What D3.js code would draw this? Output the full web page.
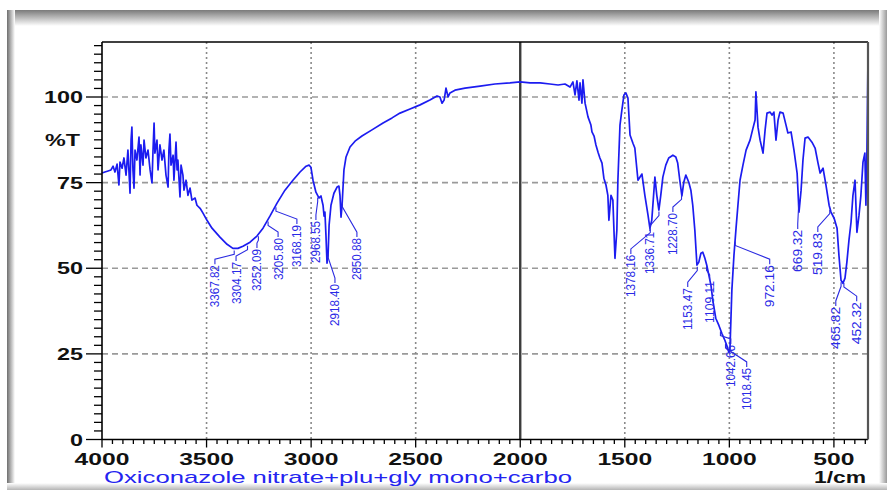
<!DOCTYPE html>
<html><head><meta charset="utf-8">
<script src="https://cdn.jsdelivr.net/npm/d3@7"></script>
<style>html,body{margin:0;padding:0;background:#fff;overflow:hidden}</style>
</head><body><svg id="c" width="894" height="493"></svg>
<script>
// ---- data ----
const wavenumber = [4000,3986,3971,3957,3947,3938,3928,3919,3914,3904,3895,3885,3876,3866,3861,3857,3852,3847,3842,3833,3823,3818,3814,3804,3799,3790,3780,3770,3761,3756,3751,3747,3737,3732,3723,3713,3704,3694,3684,3680,3675,3670,3660,3656,3646,3641,3637,3627,3622,3613,3608,3598,3589,3579,3570,3555,3546,3531,3517,3498,3474,3436,3402,3374,3350,3326,3292,3259,3230,3197,3163,3125,3087,3053,3024,3010,3001,2991,2977,2962,2953,2943,2938,2934,2929,2924,2919,2914,2905,2891,2876,2867,2862,2857,2852,2843,2833,2814,2790,2757,2709,2656,2613,2575,2527,2479,2432,2398,2384,2374,2364,2355,2345,2336,2312,2264,2192,2121,2049,2001,1953,1905,1858,1819,1786,1762,1748,1738,1729,1719,1714,1705,1700,1690,1676,1662,1657,1647,1638,1628,1619,1609,1600,1590,1581,1576,1566,1557,1547,1538,1533,1523,1514,1504,1495,1485,1475,1461,1452,1437,1418,1404,1389,1380,1371,1356,1347,1337,1328,1318,1304,1290,1270,1256,1247,1237,1227,1218,1208,1194,1184,1175,1165,1155,1146,1136,1127,1117,1108,1098,1088,1079,1065,1050,1036,1021,1011,1002,997,988,978,968,959,949,935,920,901,887,877,873,863,853,839,829,820,805,796,787,777,767,758,743,729,720,705,691,676,667,657,648,638,624,605,590,576,566,552,538,523,514,499,485,476,466,457,447,438,428,418,409,399,390,380,371,361,352,347,342,337];
const transmittance = [77.8,78.1,78.4,78.7,79.8,78.1,80.4,74.3,81.0,79.2,82.2,77.2,84.5,71.9,87.4,91.2,78.7,73.4,84.5,81.6,88.3,77.2,86.0,80.1,87.4,82.2,84.5,78.7,74.9,84.5,92.4,83.6,87.4,78.7,86.0,81.6,84.5,77.2,73.7,84.5,89.2,80.1,83.0,75.7,86.8,78.7,81.6,70.8,80.1,77.2,72.8,75.7,71.3,73.4,69.9,70.5,68.4,67.5,66.1,64.0,61.7,59.1,57.0,55.8,55.8,56.4,57.6,59.4,61.7,65.2,69.0,72.8,75.7,78.1,79.8,80.1,79.5,75.7,72.2,70.5,71.1,68.4,65.2,66.4,59.6,51.5,53.8,62.6,68.4,71.9,73.7,74.0,71.3,64.9,68.4,78.7,82.5,85.4,87.1,88.6,90.4,92.4,93.9,95.3,96.5,97.7,99.1,100.3,100.0,98.2,99.1,102.6,100.0,101.2,102.0,102.6,103.2,103.8,104.1,104.4,104.1,104.1,103.8,103.5,103.8,102.9,104.4,100.6,104.7,99.1,104.1,98.2,105.0,98.2,94.2,91.8,89.8,88.6,86.0,83.9,82.2,80.7,76.3,74.3,71.3,64.0,71.3,69.9,52.9,61.1,75.7,91.8,96.2,100.6,101.2,99.7,88.9,86.5,85.1,75.7,77.5,71.3,65.5,61.7,64.0,76.6,71.3,67.0,71.3,76.6,80.1,82.2,83.0,82.5,80.7,75.7,71.1,75.1,77.2,75.1,72.8,68.4,61.1,50.9,51.8,54.4,54.7,52.9,50.9,48.0,45.0,40.6,35.4,33.3,31.0,28.9,27.2,25.4,26.6,43.6,53.8,61.7,68.4,75.7,80.1,84.5,87.4,90.9,93.3,101.5,91.2,87.4,83.6,90.4,95.3,95.6,94.7,95.6,87.4,93.3,95.6,95.3,91.8,89.5,89.8,84.5,77.8,66.4,72.8,81.6,88.0,88.3,86.8,85.1,80.7,77.8,79.2,74.3,68.4,66.4,64.6,61.7,53.8,46.5,45.6,47.1,51.8,58.2,63.5,71.3,75.7,60.5,65.5,71.3,81.0,83.6,68.4,84.5,111.7];

const xTickValues = [4000,3500,3000,2500,2000,1500,1000,500];
const yTickValues = [0,25,50,75,100];
const peakLabels = ["3367.82","3304.17","3252.09","3205.80","3168.19","2968.55","2918.40","2850.88","1378.16","1336.71","1228.70","1153.47","1109.11","1042.66","1018.45","972.16","669.32","519.83","465.82","452.32"];
// label placement (annotation layout): wavenumber of label column, %T of label top
const labelColumnWn = [3460,3359,3259,3158,3068,2977,2886,2781,1471,1380,1270,1199,1094,993,917,807,673,577,491,391];
const labelTopT = [50.9,51.8,55.6,58.8,62.6,63.8,45.4,58.8,53.9,60.6,66.1,44.2,46.3,27.6,20.9,50.9,61.2,60.3,38.7,40.1];
const chartTitle = "Oxiconazole nitrate+plu+gly mono+carbo";
const xUnit = "1/cm";
const yUnit = "%T";

// ---- drawing ----
const svg = d3.select("#c");
const L = 102, R = 868, T = 42, B = 439.5;
const x = d3.scaleLinear().domain([4000, 337]).range([L, R]);
const y = d3.scaleLinear().domain([0, 116.06]).range([B, T]);

// frame with inner shadow
const defs = svg.append("defs");
function grad(id, x1, y1, x2, y2, c1, c2) {
  const g = defs.append("linearGradient").attr("id", id).attr("x1", x1).attr("y1", y1).attr("x2", x2).attr("y2", y2);
  g.append("stop").attr("offset", "0%").attr("stop-color", c1);
  g.append("stop").attr("offset", "100%").attr("stop-color", c2);
}
grad("gl", 0, 0, 1, 0, "#6e6e6e", "#ffffff");
grad("gt", 0, 0, 0, 1, "#7a7a7a", "#ffffff");
grad("gr", 0, 0, 1, 0, "#ffffff", "#9a9a9a");
grad("gb", 0, 0, 0, 1, "#ffffff", "#b5b5b5");
svg.append("rect").attr("x", 0).attr("y", 0).attr("width", 894).attr("height", 493).attr("fill", "#fff");
svg.append("rect").attr("x", 7).attr("y", 10).attr("width", 880).attr("height", 16).attr("fill", "url(#gt)");
svg.append("rect").attr("x", 7).attr("y", 10).attr("width", 8).attr("height", 480).attr("fill", "url(#gl)");
svg.append("rect").attr("x", 879).attr("y", 10).attr("width", 8).attr("height", 480).attr("fill", "url(#gr)");
svg.append("rect").attr("x", 7).attr("y", 483).attr("width", 880).attr("height", 7).attr("fill", "url(#gb)");

// grid
const grid = svg.append("g");
grid.selectAll("line.h").data(yTickValues.filter(d => d > 0)).join("line")
  .attr("x1", L).attr("x2", R).attr("y1", d => y(d)).attr("y2", d => y(d))
  .attr("stroke", "#9a9a9a").attr("stroke-width", 1.6).attr("stroke-dasharray", "6,4");
grid.selectAll("line.v").data(xTickValues.filter(d => d !== 4000 && d !== 2000)).join("line")
  .attr("x1", d => x(d)).attr("x2", d => x(d)).attr("y1", T).attr("y2", B)
  .attr("stroke", "#8a8a8a").attr("stroke-width", 1.6).attr("stroke-dasharray", "2,3");
grid.append("line").attr("x1", x(2000)).attr("x2", x(2000)).attr("y1", T).attr("y2", B)
  .attr("stroke", "#3c3c3c").attr("stroke-width", 2.4);

// spectrum
const pts = wavenumber.map((w, i) => [w, transmittance[i]]);
svg.append("path").datum(pts)
  .attr("d", d3.line().x(d => x(d[0])).y(d => y(d[1])))
  .attr("fill", "none").attr("stroke", "#1c1cf0").attr("stroke-width", 1.7).attr("stroke-linejoin", "round");

// peak labels
function curveAt(w) {
  for (let i = 0; i < wavenumber.length - 1; i++) {
    const a = wavenumber[i], b = wavenumber[i + 1];
    if (w <= a && w >= b) {
      const t = (a - w) / (a - b);
      return transmittance[i] + t * (transmittance[i + 1] - transmittance[i]);
    }
  }
  return transmittance[transmittance.length - 1];
}
const lab = svg.append("g");
peakLabels.forEach((s, i) => {
  const pw = parseFloat(s);
  const px = x(pw), py = y(curveAt(pw));
  const tx = x(labelColumnWn[i]), top = y(labelTopT[i]);
  lab.append("path")
    .attr("d", `M${px},${py + 2}L${px},${py + 6}L${tx},${top - 6}L${tx},${top - 1}`)
    .attr("fill", "none").attr("stroke", "#2a2ae0").attr("stroke-width", 1.1);
  lab.append("text")
    .attr("transform", `translate(${tx},${top}) rotate(-90)`)
    .attr("text-anchor", "end").attr("dy", "0.36em")
    .attr("font-family", "'Liberation Sans Narrow','Arial Narrow','Liberation Sans',sans-serif")
    .attr("font-size", 12.5).attr("fill", "#2a2ae6")
    .attr("textLength", 42).attr("lengthAdjust", "spacingAndGlyphs")
    .text(s);
});

// axes
const ax = svg.append("g").attr("stroke", "#000");
ax.selectAll("line.mx").data(d3.range(4000, 336, -50)).join("line")
  .attr("x1", d => x(d)).attr("x2", d => x(d)).attr("y1", B).attr("y2", d => B + (d % 500 === 0 ? 8 : 4.5))
  .attr("stroke-width", 1.3);
ax.selectAll("line.my").data(d3.range(0, 116, 2.5)).join("line")
  .attr("y1", d => y(d)).attr("y2", d => y(d)).attr("x1", d => L - (d % 25 === 0 ? 16 : 8)).attr("x2", L)
  .attr("stroke-width", 1.3);
ax.append("line").attr("x1", L).attr("x2", L).attr("y1", T).attr("y2", B).attr("stroke-width", 1.6);
ax.append("line").attr("x1", L).attr("x2", R).attr("y1", B).attr("y2", B).attr("stroke-width", 1.6);
ax.append("line").attr("x1", L).attr("x2", R).attr("y1", T).attr("y2", T).attr("stroke-width", 1.4);
ax.append("line").attr("x1", R).attr("x2", R).attr("y1", T).attr("y2", B).attr("stroke", "#555").attr("stroke-width", 2.2);

const fontTick = "'Liberation Sans',Arial,sans-serif";
svg.append("g").selectAll("text").data(xTickValues).join("text")
  .attr("x", d => x(d)).attr("y", 465).attr("text-anchor", "middle")
  .attr("font-family", fontTick).attr("font-weight", "bold").attr("font-size", 16).attr("fill", "#111")
  .attr("textLength", d => String(d).length * 13.7).attr("lengthAdjust", "spacingAndGlyphs")
  .text(d => d);
svg.append("g").selectAll("text").data(yTickValues).join("text")
  .attr("x", 83).attr("y", d => y(d) + 6).attr("text-anchor", "end")
  .attr("font-family", fontTick).attr("font-weight", "bold").attr("font-size", 16).attr("fill", "#111")
  .attr("textLength", d => String(d).length * 13).attr("lengthAdjust", "spacingAndGlyphs")
  .text(d => d);
svg.append("text").attr("x", 80).attr("y", 146).attr("text-anchor", "end")
  .attr("font-family", fontTick).attr("font-weight", "bold").attr("font-size", 16).attr("fill", "#111")
  .attr("textLength", 35).attr("lengthAdjust", "spacingAndGlyphs").text(yUnit);
svg.append("text").attr("x", 866).attr("y", 483).attr("text-anchor", "end")
  .attr("font-family", fontTick).attr("font-weight", "bold").attr("font-size", 16).attr("fill", "#111")
  .attr("textLength", 52).attr("lengthAdjust", "spacingAndGlyphs").text(xUnit);
svg.append("text").attr("x", 104).attr("y", 483)
  .attr("font-family", fontTick).attr("font-size", 17).attr("fill", "#2424f0")
  .attr("textLength", 468).attr("lengthAdjust", "spacingAndGlyphs").text(chartTitle);
</script></body></html>
